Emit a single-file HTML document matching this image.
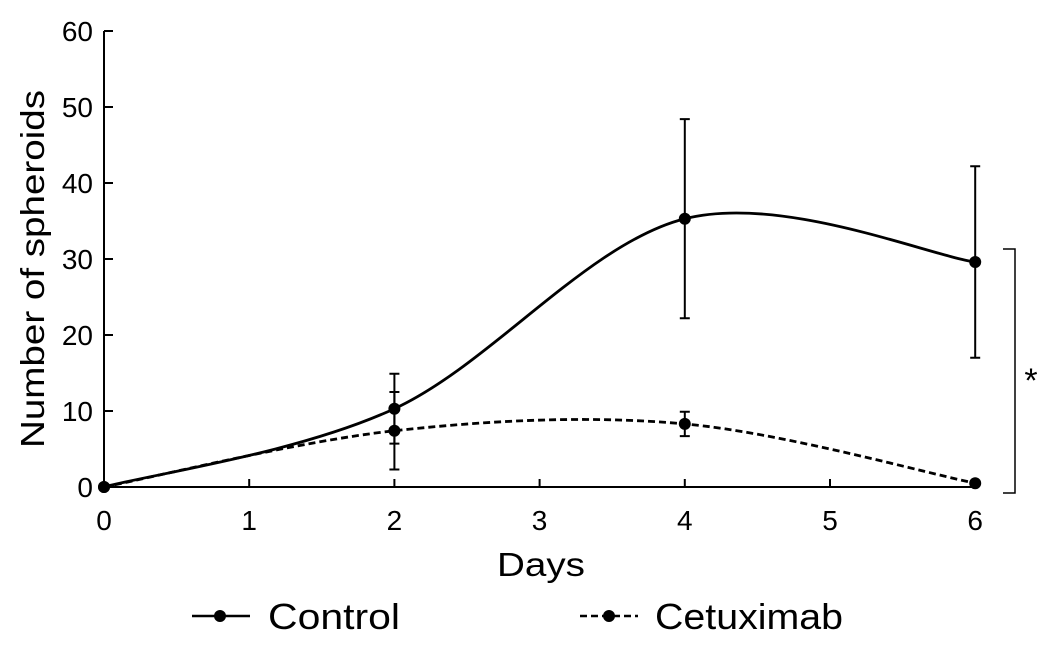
<!DOCTYPE html>
<html><head><meta charset="utf-8"><style>
body{margin:0;background:#fff;}
text{font-family:"Liberation Sans",sans-serif;fill:#000;}
</style></head><body>
<svg id="chart" width="1044" height="658" xmlns="http://www.w3.org/2000/svg"></svg>
<script>
const days=[0,2,4,6];
const controlMean=[0,10.3,35.3,29.6];
const controlErr=[0,4.6,13.1,12.6];
const cetuxMean=[0,7.4,8.3,0.5];
const cetuxErr=[0,5.1,1.6,0];
const xTicks=[0,1,2,3,4,5,6];
const yTicks=[0,10,20,30,40,50,60];
const NS='http://www.w3.org/2000/svg';
const svg=document.getElementById('chart');
const X=v=>104+v*145.2;
const Y=v=>487-v*7.6;
function mk(t,a,p){const e=document.createElementNS(NS,t);for(const k in a)e.setAttribute(k,a[k]);(p||svg).appendChild(e);return e;}
let ax=mk('line',{x1:104,y1:31,x2:104,y2:487,stroke:'#000','stroke-width':2});


let ax2=mk('line',{x1:104,y1:487,x2:X(6)+1,y2:487,stroke:'#000','stroke-width':2});


yTicks.forEach(v=>{
 const t=mk('line',{x1:104,x2:113,y1:Y(v),y2:Y(v),stroke:'#000','stroke-width':2});
 
 
 const l=mk('text',{x:93,y:Y(v)+10,'text-anchor':'end','font-size':28});
 l.textContent=v;
 
 
});
xTicks.forEach(v=>{
 const t=mk('line',{x1:X(v),x2:X(v),y1:487,y2:479,stroke:'#000','stroke-width':2});
 
 
 const l=mk('text',{x:X(v),y:530,'text-anchor':'middle','font-size':28});
 l.textContent=v;
 
 
});
let xt=mk('text',{x:497,y:576,'font-size':33,textLength:88,lengthAdjust:'spacingAndGlyphs'});
xt.textContent='Days';


let yt=mk('text',{x:0,y:0,'font-size':33,textLength:358,lengthAdjust:'spacingAndGlyphs',transform:'translate(44,448) rotate(-90)'});
yt.textContent='Number of spheroids';


// Excel-style smoothed line (Bezier, control points at 1/6 of neighbor difference)
function smooth(xs,ys){
 const P=xs.map((x,i)=>[x,ys[i]]),n=P.length;
 let p='M'+X(P[0][0])+','+Y(P[0][1]);
 for(let i=0;i<n-1;i++){
  const p0=P[i-1]||P[i],p1=P[i],p2=P[i+1],p3=P[i+2]||P[i+1];
  const c1=[p1[0]+(p2[0]-p0[0])/6,p1[1]+(p2[1]-p0[1])/6];
  const c2=[p2[0]-(p3[0]-p1[0])/6,p2[1]-(p3[1]-p1[1])/6];
  p+=`C${X(c1[0])},${Y(c1[1])} ${X(c2[0])},${Y(c2[1])} ${X(p2[0])},${Y(p2[1])}`;
 }
 return p;
}
function series(mean,err,dash,name){
 const g=mk('g',{});
 
 
 const a={d:smooth(days,mean),fill:'none',stroke:'#000','stroke-width':2.8};
 if(dash)a['stroke-dasharray']='7,4';
 const p=mk('path',a,g);
 
 
 days.forEach((d,i)=>{
  if(err[i]>0){
   const e=mk('path',{d:`M${X(d)},${Y(mean[i]+err[i])}V${Y(mean[i]-err[i])}M${X(d)-5},${Y(mean[i]+err[i])}h10M${X(d)-5},${Y(mean[i]-err[i])}h10`,stroke:'#000','stroke-width':2,fill:'none'},g);
   
   
  }
  const c=mk('circle',{cx:X(d),cy:Y(mean[i]),r:6,fill:'#000'},g);
  
  
 });
}
series(controlMean,controlErr,false,'control');
series(cetuxMean,cetuxErr,true,'cetuximab');
let br=mk('path',{d:'M1003,249H1015V493H1003',fill:'none',stroke:'#000','stroke-width':1.5});


let st=mk('text',{x:1031,y:392,'text-anchor':'middle','font-size':34});
st.textContent='*';


let lg=mk('g',{});


let l1=mk('line',{x1:192,x2:250,y1:616,y2:616,stroke:'#000','stroke-width':2.5},lg);


let c1=mk('circle',{cx:220,cy:616,r:6},lg);


let t1=mk('text',{x:268,y:629,'font-size':36,textLength:132,lengthAdjust:'spacingAndGlyphs'},lg);
t1.textContent='Control';


let l2=mk('line',{x1:580,x2:638,y1:616,y2:616,stroke:'#000','stroke-width':2.5,'stroke-dasharray':'7,4'},lg);


let c2=mk('circle',{cx:609,cy:616,r:6},lg);


let t2=mk('text',{x:655,y:629,'font-size':36,textLength:188,lengthAdjust:'spacingAndGlyphs'},lg);
t2.textContent='Cetuximab';


</script>
</body></html>
